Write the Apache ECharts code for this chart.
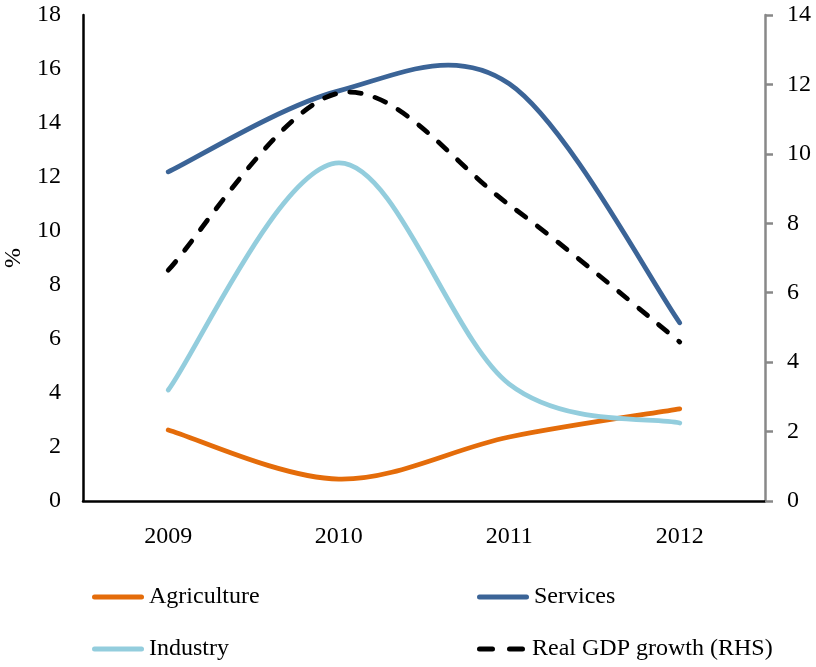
<!DOCTYPE html>
<html>
<head>
<meta charset="utf-8">
<script src="https://cdn.jsdelivr.net/npm/echarts@6/dist/echarts.min.js"></script>
<style>
  html, body { margin: 0; padding: 0; background: #fff; }
  #chart { width: 816px; height: 667px; }
</style>
</head>
<body>
<div id="chart"></div>
<script>
// Sector growth rates (%, left axis) and real GDP growth (%, right axis)
const years = ['2009', '2010', '2011', '2012'];
const agriculture = [2.63, 0.81, 2.37, 3.41];
const services = [12.19, 15.19, 15.45, 6.6];
const industry = [4.11, 12.52, 4.33, 2.89];
const realGdp = [6.65, 11.75, 8.53, 4.58];

const FONT = 'Liberation Serif';
const textStyle = { fontFamily: FONT, fontSize: 24, color: '#000' };

const chart = echarts.init(document.getElementById('chart'), null, { renderer: 'canvas' });

// Catmull-Rom style smoothed curve through every data point (passes through
// each value, allowed to swing past it between points like spreadsheet charts).
function smoothPath(pts) {
  const n = pts.length;
  let d = 'M' + pts[0][0] + ',' + pts[0][1];
  for (let i = 0; i < n - 1; i++) {
    const p0 = pts[Math.max(i - 1, 0)];
    const p1 = pts[i];
    const p2 = pts[i + 1];
    const p3 = pts[Math.min(i + 2, n - 1)];
    const c1x = p1[0] + (p2[0] - p0[0]) / 6;
    const c1y = p1[1] + (p2[1] - p0[1]) / 6;
    const c2x = p2[0] - (p3[0] - p1[0]) / 6;
    const c2y = p2[1] - (p3[1] - p1[1]) / 6;
    d += ' C' + c1x + ',' + c1y + ' ' + c2x + ',' + c2y + ' ' + p2[0] + ',' + p2[1];
  }
  return d;
}

function curveSeries(name, values, color, yAxisIndex, dash) {
  return {
    name: name,
    type: 'custom',
    yAxisIndex: yAxisIndex,
    data: values.map((v, i) => [i, v]),
    encode: { x: 0, y: 1 },
    itemStyle: { color: color },
    clip: false,
    renderItem: function (params, api) {
      if (params.dataIndex !== 0) return null;
      const pts = values.map((v, i) => api.coord([i, v]));
      return {
        type: 'path',
        shape: { pathData: smoothPath(pts) },
        style: {
          fill: 'none',
          stroke: color,
          lineWidth: 4.8,
          lineCap: 'round',
          lineJoin: 'round',
          lineDash: dash || null
        }
      };
    }
  };
}

const solidIcon = 'path://M2.5,0 L49.5,0 A2.5,2.5 0 0 1 49.5,5 L2.5,5 A2.5,2.5 0 0 1 2.5,0 Z';
const dashIcon = 'path://M2.5,0 L15.5,0 A2.5,2.5 0 0 1 15.5,5 L2.5,5 A2.5,2.5 0 0 1 2.5,0 Z M32.5,0 L45.5,0 A2.5,2.5 0 0 1 45.5,5 L32.5,5 A2.5,2.5 0 0 1 32.5,0 Z';

function legendAt(name, icon, left, top, width) {
  return {
    data: [{ name: name, icon: icon }],
    left: left,
    top: top,
    padding: 0,
    itemWidth: width || 52,
    itemHeight: 5,
    itemGap: 0,
    textStyle: textStyle,
    selectedMode: false
  };
}

chart.setOption({
  animation: false,
  backgroundColor: '#fff',
  textStyle: textStyle,
  grid: { left: 83, right: 51, top: 15, bottom: 166, containLabel: false, outerBoundsMode: 'none' },
  legend: [
    legendAt('Agriculture', solidIcon, 92, 585),
    legendAt('Services', solidIcon, 477, 585),
    legendAt('Industry', solidIcon, 92, 637),
    legendAt('Real GDP growth (RHS)', dashIcon, 477, 637, 52)
  ],
  xAxis: {
    type: 'category',
    data: years,
    boundaryGap: true,
    axisLine: { lineStyle: { color: '#000', width: 2.5 } },
    axisTick: { show: false },
    axisLabel: Object.assign({}, textStyle, { margin: 24 })
  },
  yAxis: [
    {
      type: 'value',
      min: 0, max: 18, interval: 2,
      name: '%',
      nameLocation: 'middle',
      nameGap: 54,
      nameRotate: 90,
      nameTextStyle: Object.assign({}, textStyle, { fontSize: 24 }),
      axisLine: { show: true, lineStyle: { color: '#000', width: 2.5 } },
      axisTick: { show: false },
      splitLine: { show: false },
      axisLabel: Object.assign({}, textStyle, { margin: 22 })
    },
    {
      type: 'value',
      position: 'right',
      min: 0, max: 14, interval: 2,
      axisLine: { show: true, lineStyle: { color: '#888', width: 2.5 } },
      axisTick: { show: true, length: 8, lineStyle: { color: '#888', width: 2.5 } },
      splitLine: { show: false },
      axisLabel: Object.assign({}, textStyle, { margin: 22 })
    }
  ],
  series: [
    curveSeries('Agriculture', agriculture, '#E46C0A', 0, null),
    curveSeries('Services', services, '#3B6497', 0, null),
    curveSeries('Industry', industry, '#93CDDD', 0, null),
    curveSeries('Real GDP growth (RHS)', realGdp, '#000', 1, [11.5, 14.5])
  ]
});
</script>
</body>
</html>
